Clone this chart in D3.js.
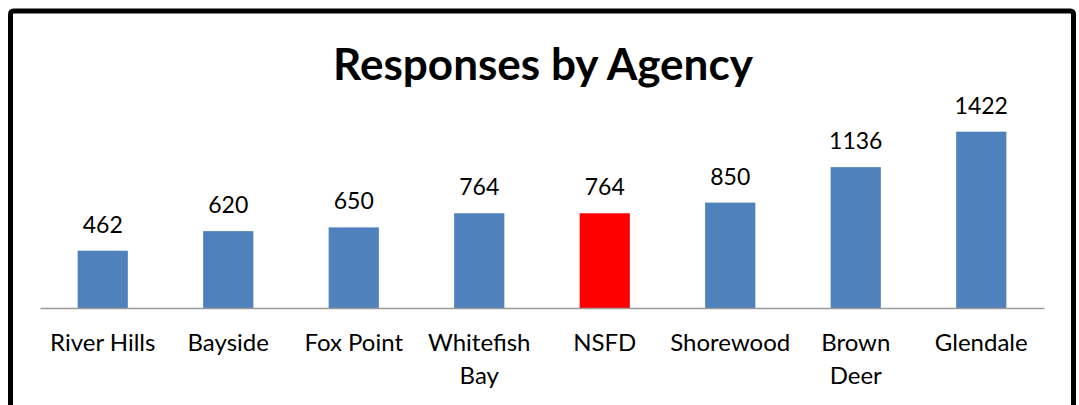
<!DOCTYPE html>
<html><head><meta charset="utf-8">
<script src="https://cdn.jsdelivr.net/npm/d3@7"></script>
<style>html,body{margin:0;padding:0;background:#fff;}svg{display:block;}</style>
</head><body>
<svg id="chart" width="1079" height="405"></svg>
<script>
const title = "Responses by Agency";
const categories = ["River Hills", "Bayside", "Fox Point", "Whitefish\nBay", "NSFD", "Shorewood", "Brown\nDeer", "Glendale"];
const values = [462, 620, 650, 764, 764, 850, 1136, 1422];
const highlight = ["NSFD"];

const svg = d3.select("#chart");
const font = "Lato, 'Open Sans', sans-serif";

svg.append("rect").attr("x", 10.5).attr("y", 11).attr("width", 1063).attr("height", 420)
  .attr("rx", 3).attr("fill", "#fff").attr("stroke", "#000").attr("stroke-width", 5);

const x = d3.scaleBand().domain(categories).range([40, 1044]).paddingInner(0.6).paddingOuter(0.3);
const y = d3.scaleLinear().domain([0, 1600]).range([308, 109.6]);

// title
const t = svg.append("text").attr("x", 543).attr("y", 80).attr("text-anchor", "middle")
  .attr("font-family", font).attr("font-weight", "bold").attr("font-size", 44).attr("fill", "#000").text(title);
const tw = t.node().getComputedTextLength();
t.attr("font-size", 44 * 420 / tw);

// bars
svg.selectAll("rect.bar").data(categories).join("rect").attr("class", "bar")
  .attr("x", d => x(d)).attr("width", x.bandwidth())
  .attr("y", (d, i) => y(values[i])).attr("height", (d, i) => y(0) - y(values[i]))
  .attr("fill", d => highlight.includes(d) ? "#FF0000" : "#4F81BD");

// value labels
svg.selectAll("text.val").data(categories).join("text").attr("class", "val")
  .attr("x", d => x(d) + x.bandwidth() / 2).attr("y", (d, i) => y(values[i]) - 18)
  .attr("text-anchor", "middle").attr("font-family", font).attr("font-size", 23).attr("fill", "#000")
  .text((d, i) => values[i]);

// axis
const axis = svg.append("g").attr("transform", "translate(0,308)")
  .call(d3.axisBottom(x).tickSize(0).tickPadding(0).tickFormat(""));
axis.select(".domain").attr("stroke", "#9A9A9A").attr("stroke-width", 1.5);

const labels = svg.selectAll("text.cat").data(categories).join("text").attr("class", "cat")
  .attr("x", d => x(d) + x.bandwidth() / 2).attr("y", 351)
  .attr("text-anchor", "middle").attr("font-family", font).attr("font-size", 24).attr("fill", "#000");
labels.each(function(d) {
  const lines = d.split("\n");
  d3.select(this).selectAll("tspan").data(lines).join("tspan")
    .attr("x", x(d) + x.bandwidth() / 2).attr("dy", (l, i) => i === 0 ? 0 : 33).text(l => l);
});
</script>
</body></html>
